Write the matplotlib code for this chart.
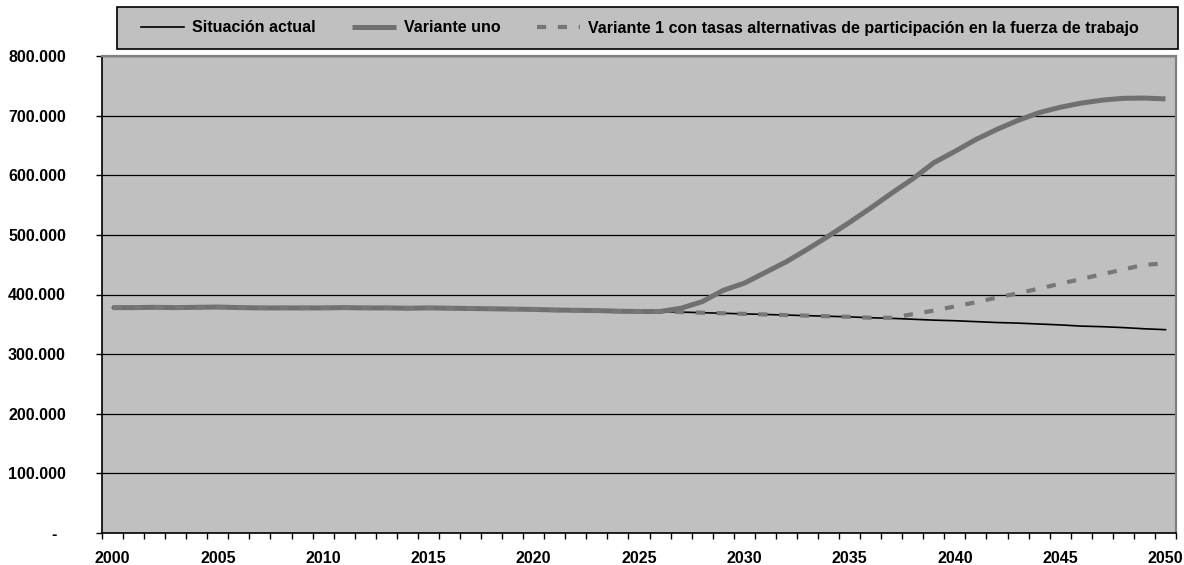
import matplotlib
matplotlib.use('Agg')
import matplotlib.pyplot as plt
from matplotlib.patches import Rectangle
from matplotlib.ticker import FuncFormatter
import numpy as np

plt.rcParams['font.family'] = ['Liberation Sans', 'DejaVu Sans']
plt.rcParams['font.weight'] = 'bold'
plt.rcParams['font.size'] = 11.5

years = np.arange(2000, 2051)

# población activa, miles de personas
situacion_actual = [378, 378, 378.5, 378, 378.5, 379, 378, 377.5, 377.5, 377.5,
                    377.5, 378, 377.5, 377.5, 377, 377.5, 377, 376.5, 376, 375.5,
                    375, 374, 373.5, 373, 372, 371.5, 371.5, 370.5, 369.5, 368.5,
                    367.5, 366.5, 365.5, 364.5, 363.5, 362.5, 361, 360, 358.5, 357,
                    356, 354.5, 353, 352, 350.5, 349, 347, 346, 344.5, 342.5, 341]

variante_uno = [378, 378, 378.5, 378, 378.5, 379, 378, 377.5, 377.5, 377.5,
                377.5, 378, 377.5, 377.5, 377, 377.5, 377, 376.5, 376, 375.5,
                375, 374, 373.5, 373, 372, 371.5, 371.5, 377, 388, 407,
                419, 437, 455, 476, 498, 521, 545, 570, 594, 621,
                640, 660, 677, 692, 705, 714, 721, 726, 729, 729.5, 728]

variante_tasas = [378, 378, 378.5, 378, 378.5, 379, 378, 377.5, 377.5, 377.5,
                  377.5, 378, 377.5, 377.5, 377, 377.5, 377, 376.5, 376, 375.5,
                  375, 374, 373.5, 373, 372, 371.5, 371.5, 370.5, 369.5, 368.5,
                  367.5, 366.5, 365.5, 364.5, 363.5, 362.5, 361, 361, 367, 373,
                  380, 387, 395, 402, 410, 418, 426, 434, 442, 450, 452]

labels = ['Situación actual', 'Variante uno',
          'Variante 1 con tasas alternativas de participación en la fuerza de trabajo']

W, H = 1184, 565
fig = plt.figure(figsize=(W / 100, H / 100), dpi=100)
ax = fig.add_axes([102 / W, 1 - 533 / H, (1176 - 102) / W, (533 - 56) / H])
ax.set_facecolor('#c0c0c0')

ax.plot(years, np.array(situacion_actual) * 1000, color='black', lw=1.2,
        label=labels[0])
ax.plot(years, np.array(variante_uno) * 1000, color='#707070', lw=3.6,
        solid_capstyle='butt', label=labels[1])
ax.plot(years, np.array(variante_tasas) * 1000, color='#777777', lw=3,
        dashes=(2.2, 2.8), dash_capstyle='butt', label=labels[2])

ax.set_xlim(1999.5, 2050.5)
ax.set_ylim(0, 800000)

ax.set_xticks(np.arange(2000, 2051, 5))
ax.set_xticks(np.arange(1999.5, 2051, 1), minor=True)
ax.tick_params(axis='x', which='major', length=0, pad=13)
ax.tick_params(axis='x', which='minor', length=4, width=1, direction='out')

ax.set_yticks(np.arange(0, 800001, 100000))
ax.yaxis.set_major_formatter(FuncFormatter(
    lambda v, p: '-  ' if v == 0 else f'{int(v):,}'.replace(',', '.')))
ax.tick_params(axis='y', length=4, width=1, direction='out', pad=22)

ax.yaxis.grid(True, color='black', lw=0.9)
ax.set_axisbelow(True)

for s in ['left', 'bottom']:
    ax.spines[s].set_color('black')
    ax.spines[s].set_linewidth(1.2)
for s in ['top', 'right']:
    ax.spines[s].set_color('#808080')
    ax.spines[s].set_linewidth(1.6)

# caja de la leyenda
fig.add_artist(Rectangle((117 / W, 1 - 49 / H), (1178 - 117) / W, 42 / H,
                         transform=fig.transFigure, facecolor='#c0c0c0',
                         edgecolor='black', lw=1.2, zorder=0))
handles, lbls = ax.get_legend_handles_labels()
fig.legend(handles, lbls, ncol=3, loc='center left',
           bbox_to_anchor=(141 / W, 1 - 28 / H), frameon=False,
           borderpad=0, borderaxespad=0, handlelength=2.7,
           handletextpad=0.5, columnspacing=2.3,
           prop={'weight': 'bold', 'size': 11.5})

fig.savefig('out.png', dpi=100)
